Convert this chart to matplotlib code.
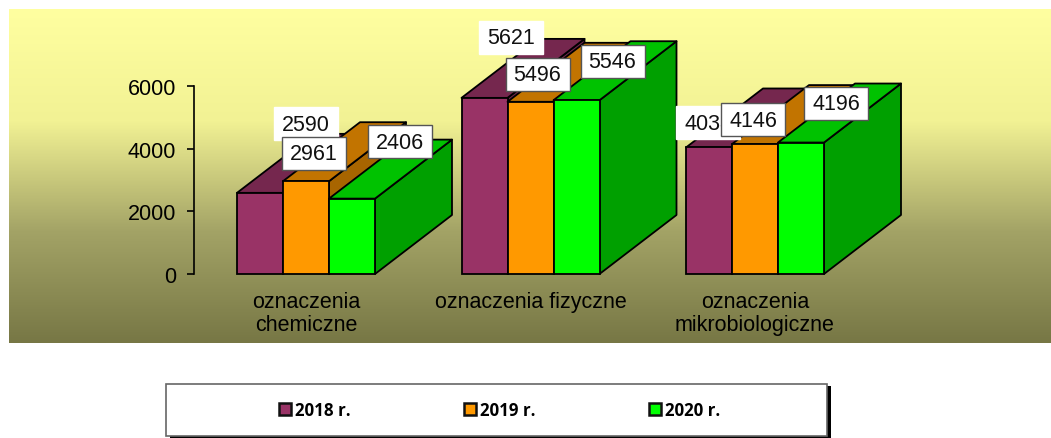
import numpy as np
import matplotlib
matplotlib.use("Agg")
import matplotlib.pyplot as plt
from matplotlib.colors import LinearSegmentedColormap
from matplotlib.patches import Polygon, Patch, Rectangle
from matplotlib.transforms import Affine2D

categories = ["oznaczenia\nchemiczne", "oznaczenia fizyczne", "oznaczenia\nmikrobiologiczne"]
series_names = ["2018 r.", "2019 r.", "2020 r."]
values_2018 = [2590, 5621, 4038]
values_2019 = [2961, 5496, 4146]
values_2020 = [2406, 5546, 4196]
y_ticks = [0, 2000, 4000, 6000]

W, H = 1051, 439
front_colors = ["#993366", "#FF9900", "#00FF00"]
top_colors = ["#75274E", "#C27400", "#00C200"]
side_colors = ["#6B2548", "#A86500", "#00A000"]

# pixel layout of the plot
PX_GROUP = 224.5
PX_Y = 188 / 6000
BAR_W = 46 / PX_GROUP
DEPTH_X = 77 / PX_GROUP
DEPTH_Y = 59 / PX_Y
X_LEFT, X_RIGHT = (9 - 306) / PX_GROUP, (1051 - 306) / PX_GROUP
Y_BOTTOM, Y_TOP = (275 - 344) / 188 * 6000, (275 - 10) / 188 * 6000

# label box centre relative to the front top centre of its bar, pixels
label_offsets = [
    [(46, 69), (7.5, 28), (47.5, 57)],
    [(26.5, 60.5), (7, 27.5), (36, 39)],
    [(-1, 24.5), (-2, 24.5), (35, 39.5)],
]
label_borders = [False, True, True]

plt.rcParams["font.family"] = "Liberation Sans"
fig = plt.figure(figsize=(W / 100, H / 100), dpi=100, facecolor="white")
ax = fig.add_axes([9 / W, (H - 344) / H, (1051 - 9) / W, (344 - 10) / H])
ax.set_xlim(X_LEFT, X_RIGHT)
ax.set_ylim(Y_BOTTOM, Y_TOP)

cmap = LinearSegmentedColormap.from_list("bg", ["#FFFFA0", "#F2F294", "#A3A366", "#777745"])
ax.imshow(np.linspace(0, 1, 256).reshape(-1, 1), cmap=cmap, aspect="auto",
          extent=[X_LEFT, X_RIGHT, Y_BOTTOM, Y_TOP], origin="upper", zorder=0)

series = [values_2018, values_2019, values_2020]
for g in range(len(categories)):
    for s, vals in enumerate(series):
        x0 = g + (s - 1.5) * BAR_W
        x1 = x0 + BAR_W
        v = vals[g]
        ax.add_patch(Polygon([(x1, 0), (x1 + DEPTH_X, DEPTH_Y), (x1 + DEPTH_X, v + DEPTH_Y), (x1, v)],
                             fc=side_colors[s], ec="black", lw=1.3, joinstyle="round", zorder=2))
        ax.add_patch(Polygon([(x0, v), (x0 + DEPTH_X, v + DEPTH_Y), (x1 + DEPTH_X, v + DEPTH_Y), (x1, v)],
                             fc=top_colors[s], ec="black", lw=1.3, joinstyle="round", zorder=2))
        ax.bar(x0, v, BAR_W, align="edge", color=front_colors[s], ec="black", lw=1.3, zorder=2)

ax.set_xlim(X_LEFT, X_RIGHT)
ax.set_ylim(Y_BOTTOM, Y_TOP)

for name in ["top", "right", "bottom"]:
    ax.spines[name].set_visible(False)
ax.spines["bottom"].set_position(("data", 0))
ax.spines["left"].set_position(("data", (194 - 306) / PX_GROUP))
ax.spines["left"].set_bounds(0, 6000)
ax.spines["left"].set_linewidth(1.2)
ax.set_yticks(y_ticks)
ax.tick_params(axis="y", length=5, width=1.2, pad=8, labelsize=15.5)
ax.set_xticks(range(len(categories)))
ax.set_xticklabels(categories, fontsize=15.5, linespacing=1.15)
ax.tick_params(axis="x", length=0, pad=12)

# value boxes, drawn in pixels so they keep their size
zb = 5
for g in range(len(categories)):
    for s, vals in enumerate(series):
        xb = g + (s - 1) * BAR_W
        px, py = ax.transData.transform((xb, vals[g]))
        ox, oy = label_offsets[g][s]
        tr = Affine2D().translate(px + ox, py + oy)
        ax.add_patch(Rectangle((-32, -16.5), 64, 33, fc="white", ec="#555555" if label_borders[s] else "white",
                               lw=1, transform=tr, clip_on=False, zorder=zb))
        ax.text(0, -0.5, str(vals[g]), transform=tr, ha="center", va="center", fontsize=15.5,
                color="#111111", zorder=zb + 1)
        zb += 2

# legend frame with its hard shadow
fig.add_artist(Rectangle((170 / W, (H - 439) / H), 661 / W, 52 / H, transform=fig.transFigure,
                         fc="black", ec="none"))
fig.add_artist(Rectangle((166 / W, (H - 437) / H), 661 / W, 52 / H, transform=fig.transFigure,
                         fc="white", ec="#666666", lw=1.2))
handles = [Patch(fc=c, ec="#111111", lw=1.8) for c in front_colors]
fig.legend(handles, series_names, loc="center left", bbox_to_anchor=(279 / W, (H - 411) / H),
           ncol=3, frameon=False, borderpad=0, borderaxespad=0, handlelength=0.7, handleheight=0.7,
           handletextpad=0.25, columnspacing=6.68,
           prop={"family": "Open Sans", "weight": "bold", "size": 12.2})

fig.savefig("out.png", dpi=100)
